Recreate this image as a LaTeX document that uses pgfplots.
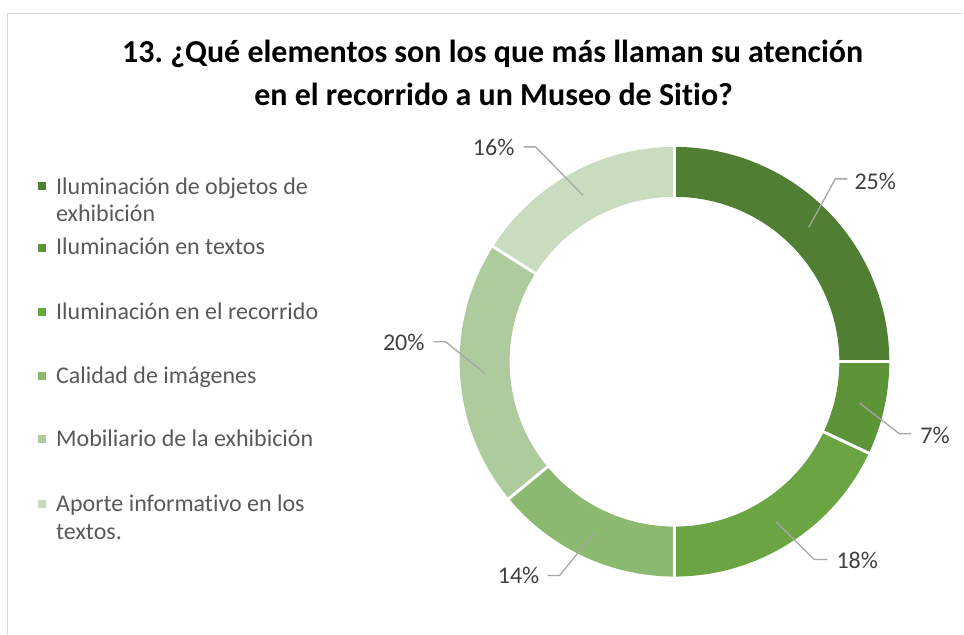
\documentclass[border=0pt]{standalone}
\usepackage{pgfplots}
\pgfplotsset{compat=1.18}
\usepackage{pgfplotstable}
\usepackage{fontspec}
\setmainfont{Carlito}[Ligatures=NoCommon]
\usetikzlibrary{calc}
\frenchspacing
\definecolor{c1}{HTML}{507F33}
\definecolor{c2}{HTML}{5E9438}
\definecolor{c3}{HTML}{6BA543}
\definecolor{c4}{HTML}{8AB96F}
\definecolor{c5}{HTML}{ADCB9C}
\definecolor{c6}{HTML}{C9DCC0}
\definecolor{legtext}{HTML}{595959}
\definecolor{labtext}{HTML}{404040}
\definecolor{leader}{HTML}{A6A6A6}
\definecolor{framec}{HTML}{D9D9D9}

% value, colour, leader elbow (ex,ey), leader end x, label position, anchor
\pgfplotstableread{
value color ex ey hx lx ly anc
25 c1 836 179 848 855 190 west
7 c2 900 434 912 921 444 west
18 c3 815 560 828 837 569 west
14 c4 560 576 548 540 584 east
20 c5 446 342 434 425 351 east
16 c6 536 147 524 515 156 east
}\donut

\begin{document}
\begin{tikzpicture}
\begin{axis}[
  width=964pt, height=634pt, scale only axis,
  xmin=0, xmax=964, ymin=0, ymax=634, y dir=reverse,
  hide axis, clip=false]

% bounding box
\path (axis cs:0,0) rectangle (axis cs:964,634);

% frame
\draw[framec, line width=1.5pt] (axis cs:7.5,634) -- (axis cs:7.5,13.5) -- (axis cs:964,13.5);

% title
\node[anchor=base, font=\fontsize{32}{36}\selectfont\bfseries, text=black] at (axis cs:493,63) {13. ¿Qué elementos son los que más llaman su atención};
\node[anchor=base, font=\fontsize{32}{36}\selectfont\bfseries, text=black] at (axis cs:494,106) {en el recorrido a un Museo de Sitio?};

% donut
\pgfplotsextra{%
  \def\angA{90}%
  \pgfplotsforeachungrouped \i in {0,...,5}{%
    \pgfplotstablegetelem{\i}{value}\of{\donut}\let\v\pgfplotsretval
    \pgfplotstablegetelem{\i}{color}\of{\donut}\let\col\pgfplotsretval
    \pgfmathsetmacro{\angB}{\angA-3.6*\v}%
    \fill[\col] ($(axis cs:675,362)+(\angA:215pt)$) arc[start angle=\angA, end angle=\angB, radius=215pt]
      -- ($(axis cs:675,362)+(\angB:165pt)$) arc[start angle=\angB, end angle=\angA, radius=165pt] -- cycle;
    \let\angA\angB
  }%
  \def\angA{90}%
  \pgfplotsforeachungrouped \i in {0,...,5}{%
    \pgfplotstablegetelem{\i}{value}\of{\donut}\let\v\pgfplotsretval
    \pgfplotstablegetelem{\i}{ex}\of{\donut}\let\ex\pgfplotsretval
    \pgfplotstablegetelem{\i}{ey}\of{\donut}\let\ey\pgfplotsretval
    \pgfplotstablegetelem{\i}{hx}\of{\donut}\let\hx\pgfplotsretval
    \pgfplotstablegetelem{\i}{lx}\of{\donut}\let\lx\pgfplotsretval
    \pgfplotstablegetelem{\i}{ly}\of{\donut}\let\ly\pgfplotsretval
    \pgfplotstablegetelem{\i}{anc}\of{\donut}\let\anc\pgfplotsretval
    \pgfmathsetmacro{\angB}{\angA-3.6*\v}%
    \pgfmathsetmacro{\angM}{(\angA+\angB)/2}%
    \draw[white, line width=3pt] ($(axis cs:675,362)+(\angA:162pt)$) -- ($(axis cs:675,362)+(\angA:218pt)$);
    \draw[leader, line width=1.3pt] ($(axis cs:675,362)+(\angM:190pt)$) -- (axis cs:\ex,\ey) -- (axis cs:\hx,\ey);
    \node[anchor=base \anc, text=labtext, inner sep=0pt, font=\fontsize{24}{28}\selectfont] at (axis cs:\lx,\ly) {\v\%};
    \let\angA\angB
  }%
}

% legend
\fill[c1] (axis cs:38.5,182) rectangle (axis cs:46.5,190);
\node[anchor=base west, inner sep=0pt, text=legtext, font=\fontsize{24}{28}\selectfont] at (axis cs:56,195) {Iluminación de objetos de};
\node[anchor=base west, inner sep=0pt, text=legtext, font=\fontsize{24}{28}\selectfont] at (axis cs:56,222) {exhibición};
\fill[c2] (axis cs:38.5,244) rectangle (axis cs:46.5,252);
\node[anchor=base west, inner sep=0pt, text=legtext, font=\fontsize{24}{28}\selectfont] at (axis cs:56,255) {Iluminación en textos};
\fill[c3] (axis cs:38.5,308) rectangle (axis cs:46.5,316);
\node[anchor=base west, inner sep=0pt, text=legtext, font=\fontsize{24}{28}\selectfont] at (axis cs:56,320) {Iluminación en el recorrido};
\fill[c4] (axis cs:38.5,372) rectangle (axis cs:46.5,380);
\node[anchor=base west, inner sep=0pt, text=legtext, font=\fontsize{24}{28}\selectfont] at (axis cs:56,384) {Calidad de imágenes};
\fill[c5] (axis cs:38.5,435) rectangle (axis cs:46.5,443);
\node[anchor=base west, inner sep=0pt, text=legtext, font=\fontsize{24}{28}\selectfont] at (axis cs:56,447) {Mobiliario de la exhibición};
\fill[c6] (axis cs:38.5,500) rectangle (axis cs:46.5,508);
\node[anchor=base west, inner sep=0pt, text=legtext, font=\fontsize{24}{28}\selectfont] at (axis cs:56,512) {Aporte informativo en los};
\node[anchor=base west, inner sep=0pt, text=legtext, font=\fontsize{24}{28}\selectfont] at (axis cs:56,540) {textos.};
\end{axis}
\end{tikzpicture}
\end{document}
